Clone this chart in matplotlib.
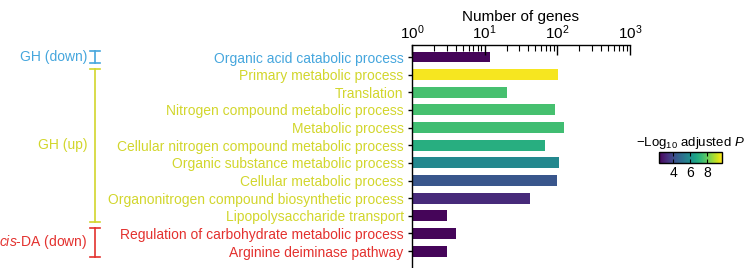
import numpy as np
import matplotlib
matplotlib.use("Agg")
import matplotlib.pyplot as plt
import matplotlib.transforms as mtransforms
from matplotlib.colors import Normalize

plt.rcParams['font.family'] = ['Liberation Sans', 'DejaVu Sans']
plt.rcParams['mathtext.fontset'] = 'custom'
plt.rcParams['mathtext.rm'] = 'Liberation Sans'
plt.rcParams['mathtext.it'] = 'Liberation Sans:italic'

# ----------------------------
# Data
# ----------------------------
terms = [
    "Organic acid catabolic process",
    "Primary metabolic process",
    "Translation",
    "Nitrogen compound metabolic process",
    "Metabolic process",
    "Cellular nitrogen compound metabolic process",
    "Organic substance metabolic process",
    "Cellular metabolic process",
    "Organonitrogen compound biosynthetic process",
    "Lipopolysaccharide transport",
    "Regulation of carbohydrate metabolic process",
    "Arginine deiminase pathway",
]
n_genes = [12, 102, 20, 93, 124, 67, 106, 99, 42, 3, 4, 3]
neg_log_padj = [2.4, 9.7, 7.6, 7.6, 7.5, 7.0, 5.8, 4.3, 3.2, 2.4, 2.4, 2.4]
groups = ["GH (down)", "GH (up)", "$\\it{cis}$-DA (down)"]
group_rows = [(0, 0), (1, 9), (10, 11)]
group_colors = ["#45a6dd", "#d2d62c", "#e3312e"]
term_group = [0, 1, 1, 1, 1, 1, 1, 1, 1, 1, 2, 2]

vmin, vmax = 2.3, 9.8
cb_ticks = [4, 6, 8]

# ----------------------------
# Figure
# ----------------------------
W, H = 747, 268
fig = plt.figure(figsize=(W / 100, H / 100), dpi=100)
ax = fig.add_axes([412 / W, 1 - 267 / H, 218 / W, 222 / H])

cmap = plt.get_cmap("viridis")
norm = Normalize(vmin=vmin, vmax=vmax)
y = np.arange(len(terms))
ax.barh(y, n_genes, height=0.62, color=cmap(norm(np.array(neg_log_padj))), left=0)

ax.set_xscale("log")
ax.set_xlim(1, 1000)
ax.set_ylim(len(terms) - 1 + 0.9, -0.68)

ax.xaxis.tick_top()
ax.xaxis.set_label_position("top")
ax.set_xlabel("Number of genes", fontsize=11, labelpad=2)
ax.set_xticks([1, 10, 100, 1000])
ax.set_xticklabels(["$10^0$", "$10^1$", "$10^2$", "$10^3$"], fontsize=11)
ax.tick_params(axis="x", which="major", direction="in", length=7, width=1, pad=2)
ax.tick_params(axis="x", which="minor", direction="in", length=4, width=0.8)

ax.set_yticks(y)
ax.set_yticklabels(terms, fontsize=10)
for lbl, g in zip(ax.get_yticklabels(), term_group):
    lbl.set_color(group_colors[g])
ax.tick_params(axis="y", direction="out", length=3, width=1, pad=3)

for s in ["right", "bottom"]:
    ax.spines[s].set_visible(False)
for s in ["top", "left"]:
    ax.spines[s].set_linewidth(1)

# group brackets on the left
tr = mtransforms.blended_transform_factory(fig.transFigure, ax.transData)
bx = 95 / W
cap = 5 / W
for name, (r0, r1), c in zip(groups, group_rows, group_colors):
    y0, y1 = r0 - 0.33, r1 + 0.33
    ax.plot([bx, bx], [y0, y1], color=c, lw=1.2, transform=tr, clip_on=False)
    ax.plot([bx - cap, bx + cap], [y0, y0], color=c, lw=1.2, transform=tr, clip_on=False)
    ax.plot([bx - cap, bx + cap], [y1, y1], color=c, lw=1.2, transform=tr, clip_on=False)
    ym = (r0 + r1) / 2
    ax.text(87 / W, ym, name, color=c, fontsize=10, ha="right", va="center",
            transform=tr, clip_on=False)

# colorbar
cax = fig.add_axes([659 / W, 1 - 163 / H, 63 / W, 11.5 / H])
sm = plt.cm.ScalarMappable(norm=norm, cmap=cmap)
cb = fig.colorbar(sm, cax=cax, orientation="horizontal", ticks=cb_ticks)
cb.outline.set_linewidth(1)
cax.tick_params(axis="x", direction="in", length=3, width=0.8, labelsize=10,
                top=True, pad=2)
cax.set_title("$-$Log$_{10}$ adjusted $\\it{P}$", fontsize=9.5, pad=4)

fig.savefig("out.png", dpi=100)
